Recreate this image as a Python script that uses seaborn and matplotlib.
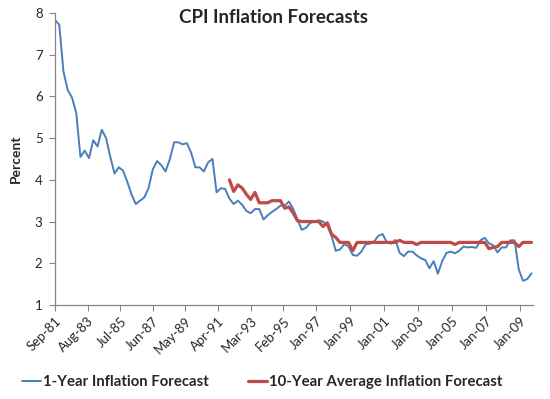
import numpy as np
import pandas as pd
import matplotlib
matplotlib.use("Agg")
import matplotlib.pyplot as plt
import matplotlib.dates as mdates
import seaborn as sns

# quarterly survey dates, first one Sep-81
start_date = "1981-09-01"

one_year = [
    7.83, 7.72, 6.60, 6.15, 5.97, 5.60, 4.55, 4.70, 4.52, 4.95,
    4.80, 5.20, 5.00, 4.55, 4.15, 4.30, 4.22, 3.95, 3.65, 3.42,
    3.50, 3.58, 3.80, 4.25, 4.45, 4.35, 4.20, 4.50, 4.90, 4.90,
    4.85, 4.88, 4.65, 4.30, 4.30, 4.20, 4.42, 4.50, 3.70, 3.80,
    3.78, 3.55, 3.42, 3.50, 3.40, 3.25, 3.20, 3.30, 3.30, 3.05,
    3.15, 3.23, 3.30, 3.38, 3.38, 3.48, 3.30, 3.05, 2.80, 2.85,
    2.97, 3.00, 3.03, 3.00, 2.90, 2.65, 2.30, 2.33, 2.46, 2.40,
    2.20, 2.18, 2.28, 2.45, 2.47, 2.52, 2.66, 2.70, 2.50, 2.47,
    2.56, 2.25, 2.17, 2.28, 2.28, 2.19, 2.12, 2.08, 1.88, 2.05,
    1.75, 2.05, 2.25, 2.28, 2.24, 2.30, 2.40, 2.38, 2.39, 2.37,
    2.55, 2.61, 2.48, 2.43, 2.26, 2.38, 2.38, 2.55, 2.55, 1.85,
    1.58, 1.62, 1.76,
]

# 10-year series starts in Dec-91 (41 quarters after the first survey)
ten_year_offset = 41
ten_year = [
    4.00, 3.72, 3.88, 3.80, 3.65, 3.53, 3.70, 3.45, 3.45, 3.45,
    3.50, 3.50, 3.50, 3.32, 3.35, 3.20, 3.02, 3.00, 3.00, 3.00,
    3.00, 3.00, 2.88, 2.97, 2.70, 2.62, 2.50, 2.50, 2.50, 2.30,
    2.50, 2.50, 2.50, 2.50, 2.50, 2.50, 2.50, 2.50, 2.50, 2.50,
    2.55, 2.50, 2.50, 2.50, 2.45, 2.50, 2.50, 2.50, 2.50, 2.50,
    2.50, 2.50, 2.50, 2.45, 2.50, 2.50, 2.50, 2.50, 2.50, 2.50,
    2.50, 2.35, 2.38, 2.40, 2.50, 2.50, 2.50, 2.50, 2.40, 2.50,
    2.50, 2.50,
]

tick_labels = ["Sep-81", "Aug-83", "Jul-85", "Jun-87", "May-89", "Apr-91",
               "Mar-93", "Feb-95", "Jan-97", "Jan-99", "Jan-01", "Jan-03",
               "Jan-05", "Jan-07", "Jan-09"]

dates = pd.date_range(start_date, periods=len(one_year), freq="3MS")
df1 = pd.DataFrame({"date": dates, "value": one_year})
df10 = pd.DataFrame({"date": dates[ten_year_offset:ten_year_offset + len(ten_year)],
                     "value": ten_year})

sns.set_style("white")
plt.rcParams["font.family"] = ["Lato", "DejaVu Sans"]

blue = "#4A7EBB"
red = "#BE4B48"
axis_grey = "#868686"

fig = plt.figure(figsize=(5.5, 3.99), dpi=100)
ax = fig.add_axes([0.1, 0.2356, 0.869, 0.732])

sns.lineplot(data=df1, x="date", y="value", ax=ax, color=blue, linewidth=1.4,
             label="1-Year Inflation Forecast")
sns.lineplot(data=df10, x="date", y="value", ax=ax, color=red, linewidth=2.3,
             label="10-Year Average Inflation Forecast")

ax.set_ylim(1, 8)
ax.set_yticks(range(1, 9))
ax.set_xlim(dates[0], dates[-1] + pd.DateOffset(months=1))
tick_dates = pd.to_datetime(tick_labels, format="%b-%y")
ax.set_xticks(tick_dates)
ax.set_xticklabels(tick_labels, rotation=45, ha="right", rotation_mode="anchor",
                   fontsize=9.5)
ax.tick_params(axis="y", labelsize=9.5, length=4, width=0.8, color=axis_grey,
               direction="out", left=True, pad=5)
ax.tick_params(axis="x", length=4, width=0.8, color=axis_grey, direction="out",
               bottom=True, pad=3)

for side in ["top", "right"]:
    ax.spines[side].set_visible(False)
for side in ["left", "bottom"]:
    ax.spines[side].set_color(axis_grey)
    ax.spines[side].set_linewidth(0.9)

ax.set_xlabel("")
ax.set_ylabel("Percent", fontsize=10, fontweight="bold", labelpad=9)

fig.text(0.498, 0.955, "CPI Inflation Forecasts", ha="center", va="center",
         fontsize=13.5, fontweight="bold")

leg = ax.legend(loc="center", bbox_to_anchor=(0.477, 0.042),
                bbox_transform=fig.transFigure, ncol=2, frameon=False,
                handlelength=1.3, handletextpad=0.15, columnspacing=2.6,
                prop={"size": 10.7, "weight": "bold"})

plt.savefig("out.png", dpi=100)
